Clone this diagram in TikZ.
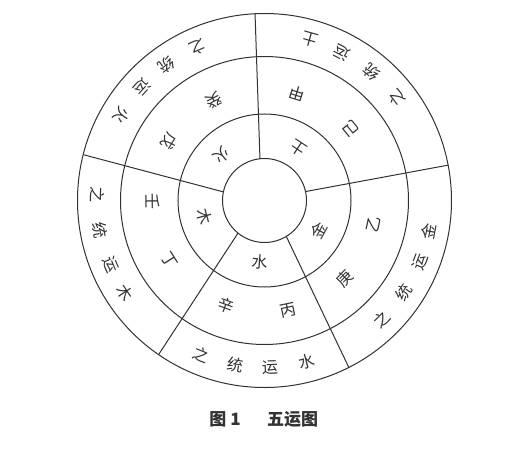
\documentclass[tikz,border=0pt]{standalone}
\usepackage{fontspec}
\usepackage{xcolor}
\usepackage{tikz}
\usetikzlibrary{positioning,calc}
\newfontfamily\cjk{Noto Sans CJK SC}
\definecolor{inkgray}{RGB}{50,50,50}
\tikzset{
  ring/.style={draw=inkgray, line width=1pt},
  spoke/.style={draw=inkgray, line width=1pt},
  glyph/.style={font=\cjk\fontsize{16}{16}\selectfont, text=inkgray, inner sep=0pt},
  caption/.style={font=\cjk\bfseries\fontsize{17}{17}\selectfont, text=black!80, inner sep=0pt}
}

\begin{document}
\begin{tikzpicture}
	  \fill[white] (-264.5pt,-249.5pt) rectangle (257.5pt,200.5pt);
	  \useasboundingbox (-264.5pt,-249.5pt) rectangle (257.5pt,200.5pt);
	  \coordinate (c) at (0,0);
	  % rings
	  \foreach \r/\name in {42/hub,86.5/inner,144/middle,187/outer}
	    \draw[ring] (c) circle[radius=\r pt];
	  % spokes from the hub to the outer ring
	  \foreach \a/\b [count=\i] in {96.2/92.9,168.2/165.8,230.9/235.5,301.2/296.8,12.3/10.9}{
	    \coordinate (s\i) at (\a:42pt);
	    \coordinate (e\i) at (\b:187pt);
	    \draw[spoke] (s\i) -- (e\i);
	  }
	  % inner ring: elements
	  \foreach \ang/\ch [count=\i] in {56.6/土,133.3/火,195.2/木,265.8/水,331.3/金}
	    \node[glyph, rotate=\ang+90] (elem\i) at (\ang:62pt) {\ch};
	  % middle ring: stems
	  \foreach \ang/\ch [count=\i] in {72.8/甲,39.5/己,116.6/癸,148/戊,180.6/壬,212.2/丁,250.1/辛,282.1/丙,316/庚,347.7/乙}
	    \node[glyph, rotate=\ang+90] (stem\i) at (\ang:112pt) {\ch};
	  % outer ring
	  \foreach \ang/\ch [count=\i] in {74.3/土,62.3/运,50.3/统,37.7/之,
	      113.5/之,125.7/统,137.2/运,149.2/火,
	      178.1/之,190.2/统,202.7/运,213.6/木,
	      247.8/之,259.9/统,271.9/运,284.7/水,
	      314.8/之,326.6/统,338.5/运,349.3/金}
	    \node[glyph, rotate=\ang+90] (rule\i) at (\ang:167pt) {\ch};
	  % caption
	  \node[caption] (capnum) at (-39.5pt,-218.5pt) {图\hspace{4pt}1};
	  \node[caption] (captitle) at (28pt,-218.5pt) {五运图};
\end{tikzpicture}
\end{document}
